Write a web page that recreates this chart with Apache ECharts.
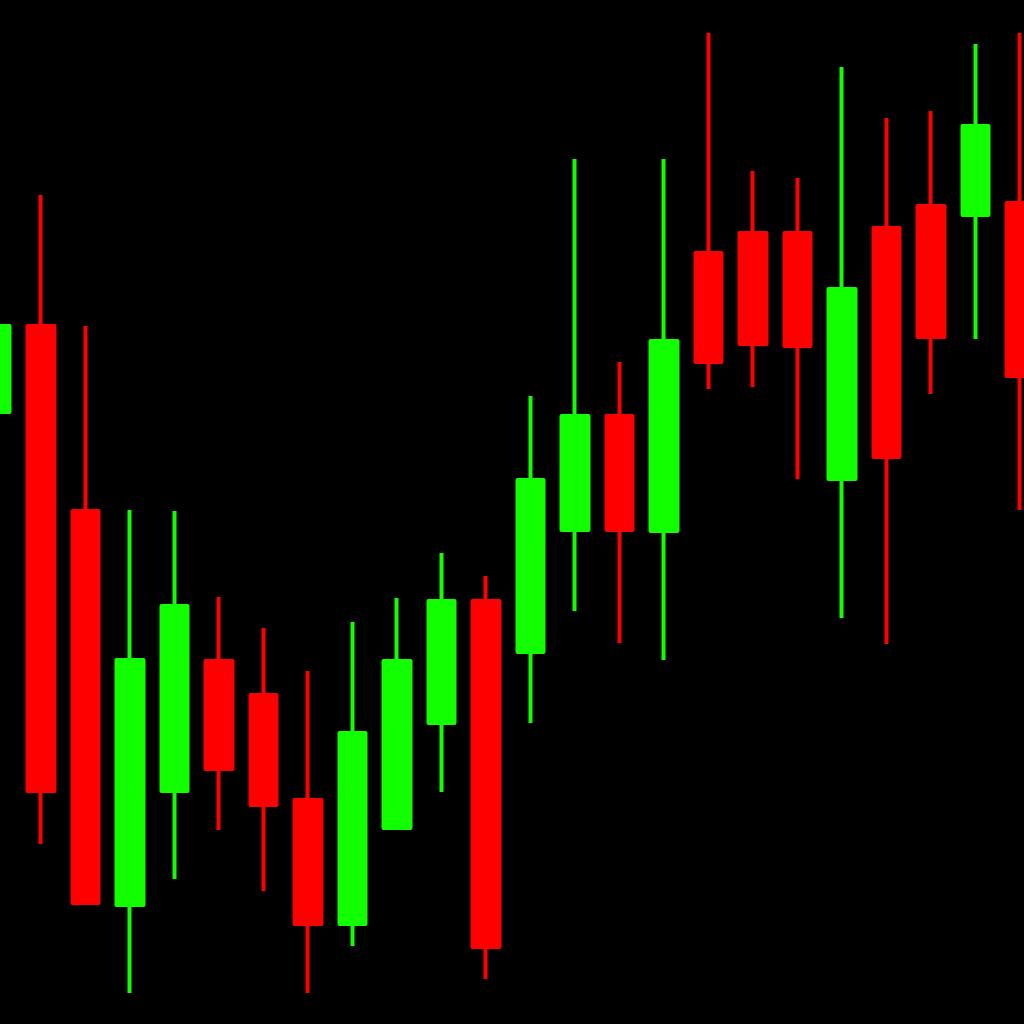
<!DOCTYPE html>
<html>
<head>
<meta charset="utf-8">
<script src="https://cdn.jsdelivr.net/npm/echarts@6/dist/echarts.min.js"></script>
<style>
html,body{margin:0;padding:0;background:#000;overflow:hidden;width:1024px;height:1024px;}
#chart{position:absolute;left:-26px;top:0;width:1068px;height:1024px;}
</style>
</head>
<body>
<div id="chart"></div>
<script>
// Candle sessions (no labels shown in the picture)
const categories = ['S0','S1','S2','S3','S4','S5','S6','S7','S8','S9','S10','S11','S12','S13','S14','S15','S16','S17','S18','S19','S20','S21','S22','S23'];
// Price values (arbitrary units)
const openValues  = [612, 698, 513, 119, 233, 363, 329, 224, 100, 196, 301, 423, 372, 494, 608, 493, 771, 791, 791, 545, 796, 818, 809, 821];
const closeValues = [698, 233, 121, 364, 418, 255, 219, 100, 291, 363, 423,  77, 544, 608, 494, 683, 662, 680, 678, 735, 567, 687, 898, 648];
const lowValues   = [594, 180, 119,  31, 145, 194, 133,  31,  78, 194, 232,  45, 301, 413, 381, 364, 635, 637, 545, 406, 380, 630, 685, 514];
const highValues  = [714, 829, 698, 514, 513, 427, 396, 353, 402, 426, 471, 448, 628, 865, 662, 865, 991, 853, 846, 957, 906, 913, 980, 991];

const ohlc = categories.map((c, i) => [openValues[i], closeValues[i], lowValues[i], highValues[i]]);

const chart = echarts.init(document.getElementById('chart'), null, {renderer: 'canvas'});
chart.setOption({
  backgroundColor: '#000000',
  animation: false,
  grid: {left: 0, right: 0, top: 0, bottom: 0},
  xAxis: {
    type: 'category',
    data: categories,
    show: false,
    boundaryGap: true
  },
  yAxis: {
    type: 'value',
    min: 0,
    max: 1024,
    show: false
  },
  series: [{
    type: 'candlestick',
    data: ohlc,
    barWidth: 27,
    itemStyle: {
      color: '#12ff00',
      color0: '#ff0000',
      borderColor: '#12ff00',
      borderColor0: '#ff0000',
      borderWidth: 4,
      borderJoin: 'round'
    }
  }]
});
</script>
</body>
</html>
